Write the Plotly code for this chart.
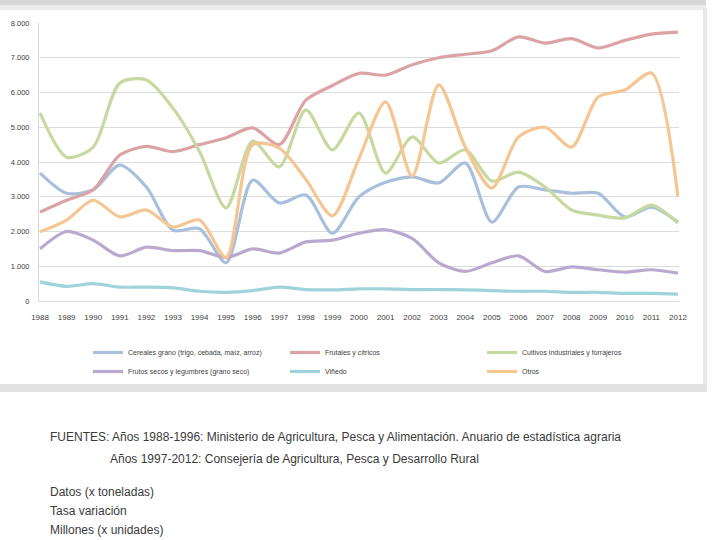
import plotly.graph_objects as go

# ---------------- data ----------------
years = ["1988", "1989", "1990", "1991", "1992", "1993", "1994", "1995", "1996",
         "1997", "1998", "1999", "2000", "2001", "2002", "2003", "2004", "2005",
         "2006", "2007", "2008", "2009", "2010", "2011", "2012"]

cereales = [3680, 3100, 3200, 3910, 3280, 2040, 2080, 1100, 3480, 2820, 3050, 1950,
            3000, 3420, 3570, 3400, 3970, 2270, 3280, 3200, 3100, 3100, 2420, 2700, 2270]
frutales = [2560, 2900, 3200, 4200, 4450, 4300, 4500, 4700, 4980, 4500, 5780, 6200,
            6550, 6500, 6800, 7000, 7100, 7200, 7600, 7420, 7550, 7280, 7500, 7680, 7740]
industriales = [5410, 4140, 4430, 6270, 6360, 5550, 4300, 2680, 4600, 3860, 5500, 4350,
                5410, 3680, 4720, 3970, 4350, 3450, 3710, 3280, 2620, 2470, 2390, 2760, 2240]
frutos_secos = [1500, 2000, 1750, 1300, 1550, 1450, 1450, 1250, 1500, 1380, 1700, 1750,
                1950, 2050, 1800, 1100, 850, 1100, 1300, 850, 980, 900, 830, 900, 800]
vinedo = [550, 420, 500, 400, 400, 380, 280, 250, 300, 400, 330, 320,
          350, 350, 330, 330, 320, 300, 280, 280, 250, 250, 220, 220, 200]
otros = [1990, 2330, 2900, 2420, 2620, 2130, 2330, 1250, 4500, 4400, 3500, 2450,
         4100, 5730, 3600, 6220, 4430, 3250, 4720, 5000, 4430, 5870, 6070, 6560, 3000]

series_names = [
    "Cereales grano (trigo, cebada, maíz, arroz)",
    "Frutales y cítricos",
    "Cultivos industriales y forrajeros",
    "Frutos secos y legumbres (grano seco)",
    "Viñedo",
    "Otros",
]
series_values = [cereales, frutales, industriales, frutos_secos, vinedo, otros]
series_colors = ["#a9c0dc", "#dca3a6", "#c6d9a0", "#b9a9cf", "#9ed3dc", "#f5c592"]

source_lines = [
    "FUENTES: Años 1988-1996: Ministerio de Agricultura, Pesca y Alimentación. Anuario de estadística agraria",
    "Años 1997-2012: Consejería de Agricultura, Pesca y Desarrollo Rural",
]
notes = ["Datos (x toneladas)", "Tasa variación", "Millones (x unidades)"]

# ---------------- layout helpers ----------------
W, H = 720, 540
L, R, T, B = 39, 679, 23, 301


def px(x):
    return (x - L) / (R - L)


def py(y):
    return (B - y) / (B - T)


fig = go.Figure()
for name, vals, col in zip(series_names, series_values, series_colors):
    fig.add_trace(go.Scatter(
        x=years, y=vals, name=name, mode="lines",
        line=dict(color=col, width=3.2, shape="spline", smoothing=0.8),
    ))

shapes = [
    dict(type="rect", xref="paper", yref="paper", x0=px(0), x1=px(706), y0=py(0), y1=py(5),
         fillcolor="#d6d6d6", line_width=0, layer="below"),
    dict(type="rect", xref="paper", yref="paper", x0=px(0), x1=px(706), y0=py(5), y1=py(10),
         fillcolor="#ececec", line_width=0, layer="below"),
    dict(type="rect", xref="paper", yref="paper", x0=px(703), x1=px(707), y0=py(8), y1=py(386),
         fillcolor="#e8e8e8", line_width=0, layer="below"),
    dict(type="rect", xref="paper", yref="paper", x0=px(0), x1=px(707), y0=py(384), y1=py(392),
         fillcolor="#e2e2e2", line_width=0, layer="below"),
]

txt_font = dict(family="Arial, Liberation Sans", size=12, color="#3a3a3a")
annotations = [
    dict(text=source_lines[0], x=px(48), y=py(437), xref="paper", yref="paper",
         xanchor="left", yanchor="middle", showarrow=False, font=txt_font),
    dict(text=source_lines[1], x=px(108), y=py(459), xref="paper", yref="paper",
         xanchor="left", yanchor="middle", showarrow=False, font=txt_font),
]
for i, t in enumerate(notes):
    annotations.append(dict(text=t, x=px(48), y=py([492, 511, 530][i]), xref="paper", yref="paper",
                            xanchor="left", yanchor="middle", showarrow=False, font=txt_font))

fig.update_layout(
    width=W, height=H,
    margin=dict(l=L, r=W - R, t=T, b=H - B),
    paper_bgcolor="white", plot_bgcolor="white",
    separators=",.",
    font=dict(family="Arial, Liberation Sans", color="#404040"),
    showlegend=True,
    legend=dict(orientation="h", x=px(88), xanchor="left", y=py(338), yanchor="top",
                entrywidth=152, entrywidthmode="pixels",
                font=dict(size=7, color="#404040"), bgcolor="rgba(0,0,0,0)"),
    xaxis=dict(type="category", range=[-0.04, 24.04], showgrid=False,
               showline=True, linecolor="#d9d9d9", linewidth=1,
               tickfont=dict(size=8, color="#404040"), ticks="", ticklabelstandoff=8,
               tickangle=0, zeroline=False),
    yaxis=dict(range=[0, 8000], dtick=1000, tickformat=",d", showgrid=True,
               gridcolor="#dcdcdc", gridwidth=1.2, showline=True, linecolor="#d9d9d9",
               tickfont=dict(size=7.5, color="#404040"), ticks="", ticklabelstandoff=7,
               zeroline=False),
    shapes=shapes,
    annotations=annotations,
)

fig.write_html("out.html")
